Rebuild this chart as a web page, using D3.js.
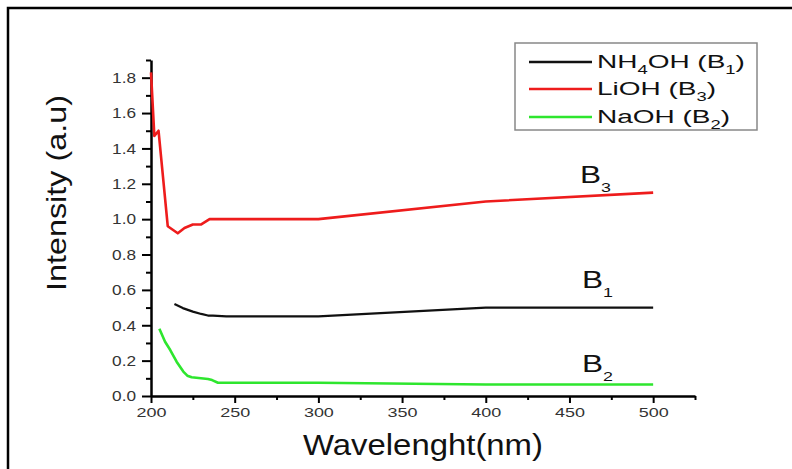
<!DOCTYPE html>
<html>
<head>
<meta charset="utf-8">
<script src="https://cdn.jsdelivr.net/npm/d3@7"></script>
<style>
  html, body { margin: 0; padding: 0; background: #fff; }
  svg { display: block; font-family: "Liberation Sans", Arial, sans-serif; }
</style>
</head>
<body>
<svg id="chart" width="792" height="469"></svg>
<script>
// ---- data ----
const xMajorTicks = [200, 250, 300, 350, 400, 450, 500];
const xMinorTicks = [225, 275, 325, 375, 425, 475, 525];
const yMajorTicks = [0.0, 0.2, 0.4, 0.6, 0.8, 1.0, 1.2, 1.4, 1.6, 1.8];
const yMinorTicks = [0.1, 0.3, 0.5, 0.7, 0.9, 1.1, 1.3, 1.5, 1.7, 1.9];

const nh4ohX = [214, 219, 225, 230, 234, 237, 245, 300, 400, 500];
const nh4ohY = [0.52, 0.497, 0.477, 0.464, 0.455, 0.455, 0.45, 0.45, 0.50, 0.50];

const liohX = [200, 202, 204.5, 210, 216, 220, 225, 230, 235, 300, 400, 500];
const liohY = [1.83, 1.47, 1.50, 0.96, 0.92, 0.95, 0.97, 0.97, 1.0, 1.0, 1.1, 1.15];

const naohX = [205, 208.4, 211.5, 215.3, 219.3, 221.7, 224.3, 234, 236.5, 240, 300, 400, 500];
const naohY = [0.38, 0.307, 0.26, 0.194, 0.138, 0.115, 0.106, 0.096, 0.09, 0.075, 0.075, 0.065, 0.065];

const legendLabels = [
  ["NH", "4", "OH (B", "1", ")"],
  ["LiOH (B", "3", ")"],
  ["NaOH (B", "2", ")"]
];
const seriesColors = ["#111111", "#ee1c1c", "#2ee62e"];
const bSubs = ["3", "1", "2"];

// ---- layout ----
const svg = d3.select("#chart");
const x = d3.scaleLinear().domain([200, 525]).range([151, 695]);
const y = d3.scaleLinear().domain([0, 1.9]).range([396, 60]);

// frame
svg.append("path").attr("d", "M8,469V8H792").attr("fill", "none")
  .attr("stroke", "#000").attr("stroke-width", 2.5);

function fitGroup(g, target) {
  const w = g.select("text").node().getBBox().width;
  return target / w;
}

// ---- axes ----
const xAxisG = svg.append("g").attr("transform", "translate(0,396)");
xAxisG.call(d3.axisBottom(x).tickValues(xMinorTicks).tickSize(4).tickFormat(""))
  .call(g => g.select(".domain").remove());
xAxisG.append("g").call(d3.axisBottom(x).tickValues(xMajorTicks).tickSize(7).tickSizeOuter(0).tickFormat(d3.format("d")));
xAxisG.selectAll("line").attr("stroke", "#000").attr("stroke-width", 2);
xAxisG.selectAll(".domain").attr("stroke", "#000").attr("stroke-width", 2.5);
const xt = xAxisG.selectAll("text").attr("font-size", 13.5).attr("fill", "#333")
  .attr("y", 21).attr("dy", 0).attr("font-family", "Liberation Sans, Arial, sans-serif");
const xw = xt.filter(d => d === 300).node().getComputedTextLength();
const xs = 30 / xw;
xt.attr("transform", `scale(${xs},1)`);

const yAxisG = svg.append("g").attr("transform", "translate(151,0)");
yAxisG.call(d3.axisLeft(y).tickValues(yMinorTicks).tickSize(5).tickFormat(""))
  .call(g => g.select(".domain").remove());
yAxisG.append("g").call(d3.axisLeft(y).tickValues(yMajorTicks).tickSize(9).tickSizeOuter(0).tickFormat(d3.format(".1f")));
yAxisG.selectAll("line").attr("stroke", "#000").attr("stroke-width", 2);
yAxisG.selectAll(".domain").attr("stroke", "#000").attr("stroke-width", 2.5);
const yt = yAxisG.selectAll("text").attr("font-size", 14.5).attr("fill", "#333")
  .attr("font-family", "Liberation Sans, Arial, sans-serif");
const yw = yt.filter(d => d === 1.8).node().getComputedTextLength();
const ys = 24 / yw;
yt.attr("x", -15 / ys).attr("dy", "0.33em").attr("transform", `scale(${ys},1)`);

// axis titles
const xTitle = svg.append("g");
xTitle.append("text").attr("font-size", 30).attr("fill", "#111").text("Wavelenght(nm)");
xTitle.attr("transform", `translate(303,455) scale(${fitGroup(xTitle, 240)},1)`);

const yTitle = svg.append("g");
yTitle.append("text").attr("font-size", 28).attr("fill", "#111").text("Intensity (a.u)");
yTitle.attr("transform", `translate(66,291) rotate(-90) scale(${fitGroup(yTitle, 196)},1)`);

// ---- lines ----
const line = d3.line().x(d => x(d[0])).y(d => y(d[1]));
const seriesData = [
  d3.zip(nh4ohX, nh4ohY),
  d3.zip(liohX, liohY),
  d3.zip(naohX, naohY)
];
const widths = [2.2, 2.6, 2.6];
seriesData.forEach((pts, i) => {
  svg.append("path").datum(pts).attr("d", line).attr("fill", "none")
    .attr("stroke", seriesColors[i]).attr("stroke-width", widths[i])
    .attr("stroke-linejoin", "round");
});

// ---- B labels ----
const bPos = [[580, 183], [582, 288], [582, 372]];
bSubs.forEach((s, i) => {
  const g = svg.append("g");
  const t = g.append("text").attr("font-size", 23).attr("fill", "#111");
  t.append("tspan").text("B");
  t.append("tspan").attr("font-size", 13).attr("dy", 9).text(s);
  g.attr("transform", `translate(${bPos[i][0]},${bPos[i][1]}) scale(${fitGroup(g, 31)},1)`);
});

// ---- legend ----
svg.append("rect").attr("x", 515).attr("y", 43).attr("width", 242).attr("height", 87)
  .attr("fill", "#fff").attr("stroke", "#888").attr("stroke-width", 1.5);
const legY = [62, 89, 117];
let legScale = null;
legendLabels.forEach((parts, i) => {
  svg.append("line").attr("x1", 529).attr("x2", 592).attr("y1", legY[i]).attr("y2", legY[i])
    .attr("stroke", seriesColors[i]).attr("stroke-width", 2.4);
  const g = svg.append("g");
  const t = g.append("text").attr("font-size", 19).attr("fill", "#111");
  parts.forEach((part, k) => {
    const isSub = k % 2 === 1;
    t.append("tspan").attr("font-size", isSub ? 12.5 : 19)
      .attr("dy", isSub ? 6 : (k === 0 ? 0 : -6)).text(part);
  });
  if (legScale === null) legScale = fitGroup(g, 148);
  g.attr("transform", `translate(597,${legY[i] + 6}) scale(${legScale},1)`);
});
</script>
</body>
</html>
